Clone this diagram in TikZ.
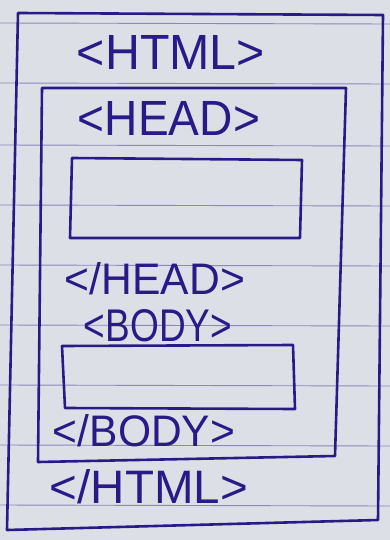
\documentclass[tikz,border=0pt]{standalone}
\usepackage{fontspec}
\setmainfont{Liberation Sans}
\usepackage{graphicx}
\definecolor{paper}{RGB}{220,224,230}
\definecolor{ink}{RGB}{42,26,135}
\definecolor{rule}{RGB}{140,136,185}
\tikzset{
  inkline/.style={draw=ink, line width=2.6pt, line join=round, line cap=round},
  tagtext/.style={text=ink, inner sep=0pt, anchor=center},
  paperrule/.style={draw=rule, line width=0.9pt}
}
\newcommand{\tagfit}[3]{\resizebox{#1pt}{#2pt}{#3}}
\begin{document}
\begin{tikzpicture}[x=1pt,y=-1pt]
  \fill[paper] (0,0) rectangle (390,540);
  \useasboundingbox (0,0) rectangle (390,540);
  % paper rules
  \foreach \yy in {23,83,145,205,265,325,385,445,505}
    \draw[paperrule] (0,\yy) -- (390,\yy+1);
  % outer HTML box
  \draw[inkline] (18,13) -- (383,15) -- (378,520) -- (7,530) -- cycle;
  % inner box
  \draw[inkline] (42,88) -- (346,88) -- (335,456) -- (38,462) -- cycle;
  % head content box
  \draw[inkline] (72,158) -- (302,160) -- (300,238) -- (70,238) -- cycle;
  % body content box
  \draw[inkline] (62,346) -- (293,345) -- (295,409) -- (65,408) -- cycle;
  % tags
  \node[tagtext] (html) at (171,52) {\tagfit{188}{34}{<HTML>}};
  \node[tagtext] (head) at (169,118) {\tagfit{182}{34}{<HEAD>}};
  \node[tagtext] (ehead) at (155,279) {\tagfit{180}{32}{</HEAD>}};
  \node[tagtext] (body) at (158,326) {\tagfit{148}{32}{<BODY>}};
  \node[tagtext] (ebody) at (144,431) {\tagfit{182}{32}{</BODY>}};
  \node[tagtext] (ehtml) at (149,487) {\tagfit{198}{34}{</HTML>}};
\end{tikzpicture}
\end{document}
